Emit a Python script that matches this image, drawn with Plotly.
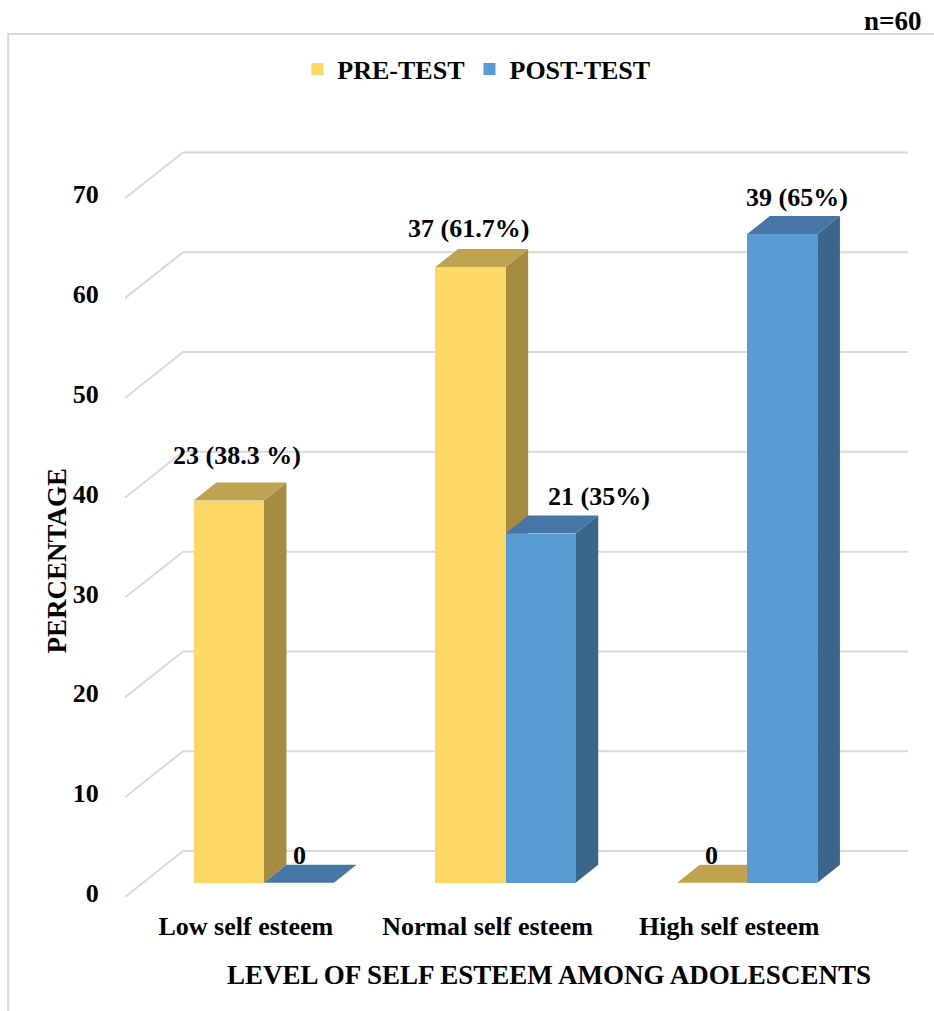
import plotly.graph_objects as go

# ---- data ----
categories = ["Low self esteem", "Normal self esteem", "High self esteem"]
pre_pct = [38.3, 61.7, 0]
post_pct = [0, 35, 65]
pre_labels = ["23 (38.3 %)", "37 (61.7%)", "0"]
post_labels = ["0", "21 (35%)", "39 (65%)"]
y_ticks = [0, 10, 20, 30, 40, 50, 60, 70]

# ---- oblique 3-D geometry (axis units) ----
DEPTH_X = 0.24      # horizontal shift of the full floor depth
DEPTH_Y = 4.6       # vertical shift of the full floor depth
BAR_D0 = 0.31       # bar front position inside the depth
BAR_D1 = 0.70       # bar back position inside the depth
BAR_W = 0.29        # width of one bar
X_LO, X_HI = -0.5, 2.5

FONT = "Liberation Serif"
GRID = "#D9D9D9"
PRE_COLORS = dict(front="#FDD866", side="#A68C42", top="#BFA34E")
POST_COLORS = dict(front="#5B9BD5", side="#3A6689", top="#4676A3")

shapes = []


def poly(points, color):
    path = "M " + " L ".join(f"{x},{y}" for x, y in points) + " Z"
    shapes.append(dict(type="path", path=path, xref="x", yref="y",
                       fillcolor=color, line=dict(color=color, width=0),
                       layer="below"))


# bent gridlines: front-left diagonal then back wall
for t in y_ticks:
    path = (f"M {X_LO},{t} L {X_LO + DEPTH_X},{t + DEPTH_Y} "
            f"L {X_HI + DEPTH_X},{t + DEPTH_Y}")
    shapes.append(dict(type="path", path=path, xref="x", yref="y",
                       line=dict(color=GRID, width=2), layer="below"))

fx = BAR_D0 * DEPTH_X          # front face shift
fy = BAR_D0 * DEPTH_Y
ddx = (BAR_D1 - BAR_D0) * DEPTH_X   # bar depth
ddy = (BAR_D1 - BAR_D0) * DEPTH_Y

series = [
    ("PRE-TEST", pre_pct, pre_labels, PRE_COLORS, -1),
    ("POST-TEST", post_pct, post_labels, POST_COLORS, 0),
]

# label nudges (pixels) per series / category
label_shift = {
    "PRE-TEST": [(-3, 27), (-13, 21), (-12, 9)],
    "POST-TEST": [(-11, 9), (47, 19), (3, 19)],
}

fig = go.Figure()
annotations = []

for i in range(len(categories)):
    for name, vals, labels, col, k in series:
        v = vals[i]
        xl = i + fx + k * BAR_W
        xr = xl + BAR_W
        y0 = fy
        y1 = fy + v
        # side face
        if v > 0:
            poly([(xr, y0), (xr + ddx, y0 + ddy), (xr + ddx, y1 + ddy), (xr, y1)],
                 col["side"])
        # top face
        poly([(xl, y1), (xr, y1), (xr + ddx, y1 + ddy), (xl + ddx, y1 + ddy)],
             col["top"])
        sx, sy = label_shift[name][i]
        annotations.append(dict(
            x=(xl + xr) / 2 + ddx / 2, y=y1 + ddy, xref="x", yref="y",
            text=labels[i], showarrow=False, xanchor="center", yanchor="middle",
            xshift=sx, yshift=sy,
            font=dict(family=FONT, size=26, color="black", weight="bold")))

# front faces as bars
for name, vals, labels, col, k in series:
    xs = [i + fx + k * BAR_W + BAR_W / 2 for i in range(len(categories))]
    fig.add_trace(go.Bar(
        x=xs, y=vals, base=[fy] * len(vals), width=BAR_W, name=name,
        marker=dict(color=col["front"], line=dict(width=0)),
        hoverinfo="skip"))

annotations += [
    dict(text="PERCENTAGE", xref="paper", yref="paper", x=-0.085, y=0.423,
         textangle=-90, showarrow=False, xanchor="center", yanchor="middle",
         font=dict(family=FONT, size=27, color="black", weight="bold")),
    dict(text="LEVEL OF SELF ESTEEM AMONG ADOLESCENTS", xref="paper",
         yref="paper", x=0.53, y=-0.098, showarrow=False,
         xanchor="center", yanchor="middle",
         font=dict(family=FONT, size=27, color="black", weight="bold")),
    dict(text="n=60", xref="paper", yref="paper", x=0.998, y=1.101,
         showarrow=False, xanchor="right", yanchor="middle",
         font=dict(family=FONT, size=27, color="black", weight="bold")),
]

# chart frame
shapes.append(dict(type="rect", xref="paper", yref="paper",
                   x0=-0.146, y0=-0.2, x1=1.1, y1=1.085,
                   line=dict(color=GRID, width=2), fillcolor="rgba(0,0,0,0)",
                   layer="below"))

fig.update_layout(
    width=934, height=1011, autosize=False,
    margin=dict(l=125, r=9, t=100, b=114),
    paper_bgcolor="white", plot_bgcolor="white",
    barmode="overlay", bargap=0,
    font=dict(family=FONT, size=26, color="black", weight="bold"),
    showlegend=True,
    legend=dict(orientation="h", xref="container", yref="container",
                x=0.51, y=1 - 69 / 1011, xanchor="center", yanchor="middle",
                font=dict(family=FONT, size=26, color="black", weight="bold"),
                bgcolor="rgba(0,0,0,0)", itemwidth=30),
    xaxis=dict(range=[X_LO, 2.81], showgrid=False, zeroline=False,
               showline=False, tickvals=[0, 1, 2], ticktext=categories,
               ticks="outside", ticklen=6, tickcolor="rgba(0,0,0,0)",
               tickfont=dict(family=FONT, size=26, color="black", weight="bold"),
               fixedrange=True),
    yaxis=dict(range=[0, 79.7], showgrid=False, zeroline=False,
               showline=False, tickvals=y_ticks,
               ticks="outside", ticklen=20, tickcolor="rgba(0,0,0,0)",
               ticklabelshift=-4,
               tickfont=dict(family=FONT, size=26, color="black", weight="bold"),
               fixedrange=True),
    shapes=shapes,
    annotations=annotations,
)

fig.write_html("out.html")
